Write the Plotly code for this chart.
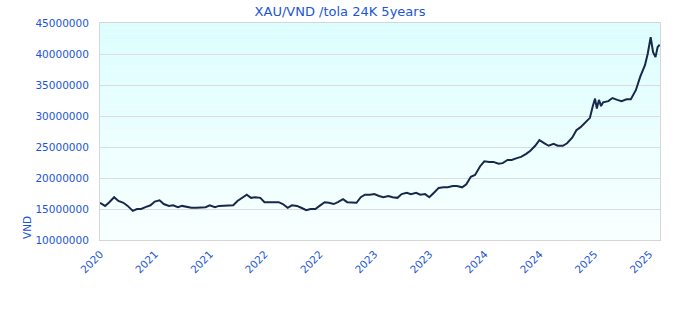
import plotly.graph_objects as go

# ---- data, values in VND per tola ----
dates = [
    "2020-10-15", "2020-11-01", "2020-11-15", "2020-12-01", "2020-12-15",
    "2021-01-01", "2021-01-15", "2021-02-01", "2021-02-15", "2021-03-01",
    "2021-03-15", "2021-04-01", "2021-04-15", "2021-05-01", "2021-05-15",
    "2021-06-01", "2021-06-15", "2021-07-01", "2021-07-15", "2021-08-01",
    "2021-08-15", "2021-09-01", "2021-09-15", "2021-10-01", "2021-10-15",
    "2021-11-01", "2021-11-15", "2021-12-01", "2021-12-15", "2022-01-01",
    "2022-01-15", "2022-02-01", "2022-02-15", "2022-03-01", "2022-03-15",
    "2022-04-01", "2022-04-15", "2022-05-01", "2022-05-15", "2022-06-01",
    "2022-06-15", "2022-07-01", "2022-07-15", "2022-08-01", "2022-08-15",
    "2022-09-01", "2022-09-15", "2022-10-01", "2022-10-15", "2022-11-01",
    "2022-11-15", "2022-12-01", "2022-12-15", "2023-01-01", "2023-01-15",
    "2023-02-01", "2023-02-15", "2023-03-01", "2023-03-15", "2023-04-01",
    "2023-04-15", "2023-05-01", "2023-05-15", "2023-06-01", "2023-06-15",
    "2023-07-01", "2023-07-15", "2023-08-01", "2023-08-15", "2023-09-01",
    "2023-09-15", "2023-10-01", "2023-10-15", "2023-11-01", "2023-11-15",
    "2023-12-01", "2023-12-15", "2024-01-01", "2024-01-15", "2024-02-01",
    "2024-02-15", "2024-03-01", "2024-03-15", "2024-04-01", "2024-04-15",
    "2024-05-01", "2024-05-15", "2024-06-01", "2024-06-15", "2024-07-01",
    "2024-07-15", "2024-08-01", "2024-08-15", "2024-09-01", "2024-09-15",
    "2024-10-01", "2024-10-15", "2024-11-01", "2024-11-15", "2024-12-01",
    "2024-12-15", "2025-01-01", "2025-01-15", "2025-02-01", "2025-02-15",
    "2025-03-01", "2025-03-15", "2025-04-01", "2025-04-10", "2025-04-18",
    "2025-04-24", "2025-05-01", "2025-05-08", "2025-05-15", "2025-06-01",
    "2025-06-15", "2025-07-01", "2025-07-15", "2025-08-01", "2025-08-15",
    "2025-09-01", "2025-09-15", "2025-10-01", "2025-10-10", "2025-10-20",
    "2025-10-28", "2025-11-05", "2025-11-12", "2025-11-19",
]
prices_m = [
    16.0, 15.5, 16.1, 16.9, 16.3,
    16.0, 15.5, 14.7, 15.0, 15.0,
    15.3, 15.6, 16.2, 16.4, 15.8,
    15.5, 15.6, 15.3, 15.5, 15.3,
    15.2, 15.2, 15.2, 15.3, 15.6,
    15.3, 15.5, 15.5, 15.5, 15.6,
    16.3, 16.9, 17.3, 16.8, 16.9,
    16.8, 16.1, 16.1, 16.1, 16.1,
    15.8, 15.2, 15.6, 15.5, 15.2,
    14.8, 15.0, 15.0, 15.5, 16.1,
    16.0, 15.8, 16.1, 16.6, 16.1,
    16.1, 16.0, 16.9, 17.3, 17.3,
    17.4, 17.1, 16.9, 17.1, 16.9,
    16.8, 17.4, 17.6, 17.4, 17.6,
    17.3, 17.4, 16.9, 17.7, 18.4,
    18.5, 18.5, 18.7, 18.7, 18.5,
    19.0, 20.2, 20.5, 21.9, 22.7,
    22.6, 22.6, 22.3, 22.4, 22.9,
    22.9, 23.2, 23.4, 23.9, 24.4,
    25.2, 26.1, 25.6, 25.2, 25.5,
    25.2, 25.2, 25.6, 26.5, 27.7,
    28.2, 28.9, 29.7, 31.5, 32.8,
    31.2, 32.6, 31.6, 32.2, 32.4,
    32.9, 32.6, 32.4, 32.7, 32.7,
    34.2, 36.3, 38.2, 40.0, 42.7,
    40.3, 39.5, 41.1, 41.5,
]
prices = [p * 1_000_000 for p in prices_m]

tick_dates = ["2020-10-16", "2021-04-16", "2021-10-16", "2022-04-16",
              "2022-10-16", "2023-04-16", "2023-10-16", "2024-04-16",
              "2024-10-16", "2025-04-16", "2025-10-16"]
tick_labels = ["2020", "2021", "2021", "2022", "2022", "2023", "2023",
               "2024", "2024", "2025", "2025"]
y_ticks = [10000000, 15000000, 20000000, 25000000, 30000000,
           35000000, 40000000, 45000000]

BLUE = "#1a56d6"
LINE = "#17294a"

fig = go.Figure()
fig.add_trace(go.Scatter(x=dates, y=prices, mode="lines",
                         line=dict(color=LINE, width=2), hoverinfo="skip"))

# vertical gradient background (light cyan at top to near white at bottom)
n = 40
top = (220, 254, 254)
bot = (248, 255, 255)
shapes = []
for i in range(n):
    t = i / (n - 1)
    c = tuple(round(top[k] + (bot[k] - top[k]) * t) for k in range(3))
    shapes.append(dict(type="rect", xref="paper", yref="paper",
                       x0=0, x1=1, y0=1 - (i + 1) / n, y1=1 - i / n,
                       fillcolor="rgb(%d,%d,%d)" % c, line=dict(width=0),
                       layer="below"))

fig.update_layout(
    width=680, height=320,
    margin=dict(l=100, r=20, t=23, b=80),
    paper_bgcolor="white", plot_bgcolor="rgba(0,0,0,0)",
    font=dict(family="DejaVu Sans", color=BLUE, size=10.5),
    showlegend=False,
    shapes=shapes,
    title=dict(text="XAU/VND /tola 24K 5years", x=0.5, xref="container",
               xanchor="center", y=1 - 11 / 320, yref="container",
               yanchor="middle", font=dict(size=13, color=BLUE)),
    xaxis=dict(range=["2020-10-15", "2025-11-20"], tickmode="array",
               tickvals=tick_dates, ticktext=tick_labels, tickangle=-45,
               showgrid=False, zeroline=False, showline=True,
               linecolor="#d6d6d6", linewidth=1, mirror=True,
               ticks="outside", ticklen=3, tickcolor="rgba(0,0,0,0)",
               tickfont=dict(size=10.5, color=BLUE)),
    yaxis=dict(range=[10000000, 45000000], tickmode="array",
               tickvals=y_ticks, ticktext=[str(v) for v in y_ticks],
               showgrid=True, gridcolor="#dcdcdc", zeroline=False,
               showline=True, linecolor="#d6d6d6", linewidth=1, mirror=True,
               ticks="outside", ticklen=8, tickcolor="rgba(0,0,0,0)",
               tickfont=dict(size=10.5, color=BLUE)),
    annotations=[dict(text="VND", xref="paper", yref="paper",
                      x=(27 - 100) / 560, y=(240 - 228) / 217,
                      xanchor="center", yanchor="middle", textangle=-90,
                      showarrow=False, font=dict(size=10.5, color=BLUE))],
)

fig.write_html("out.html")
